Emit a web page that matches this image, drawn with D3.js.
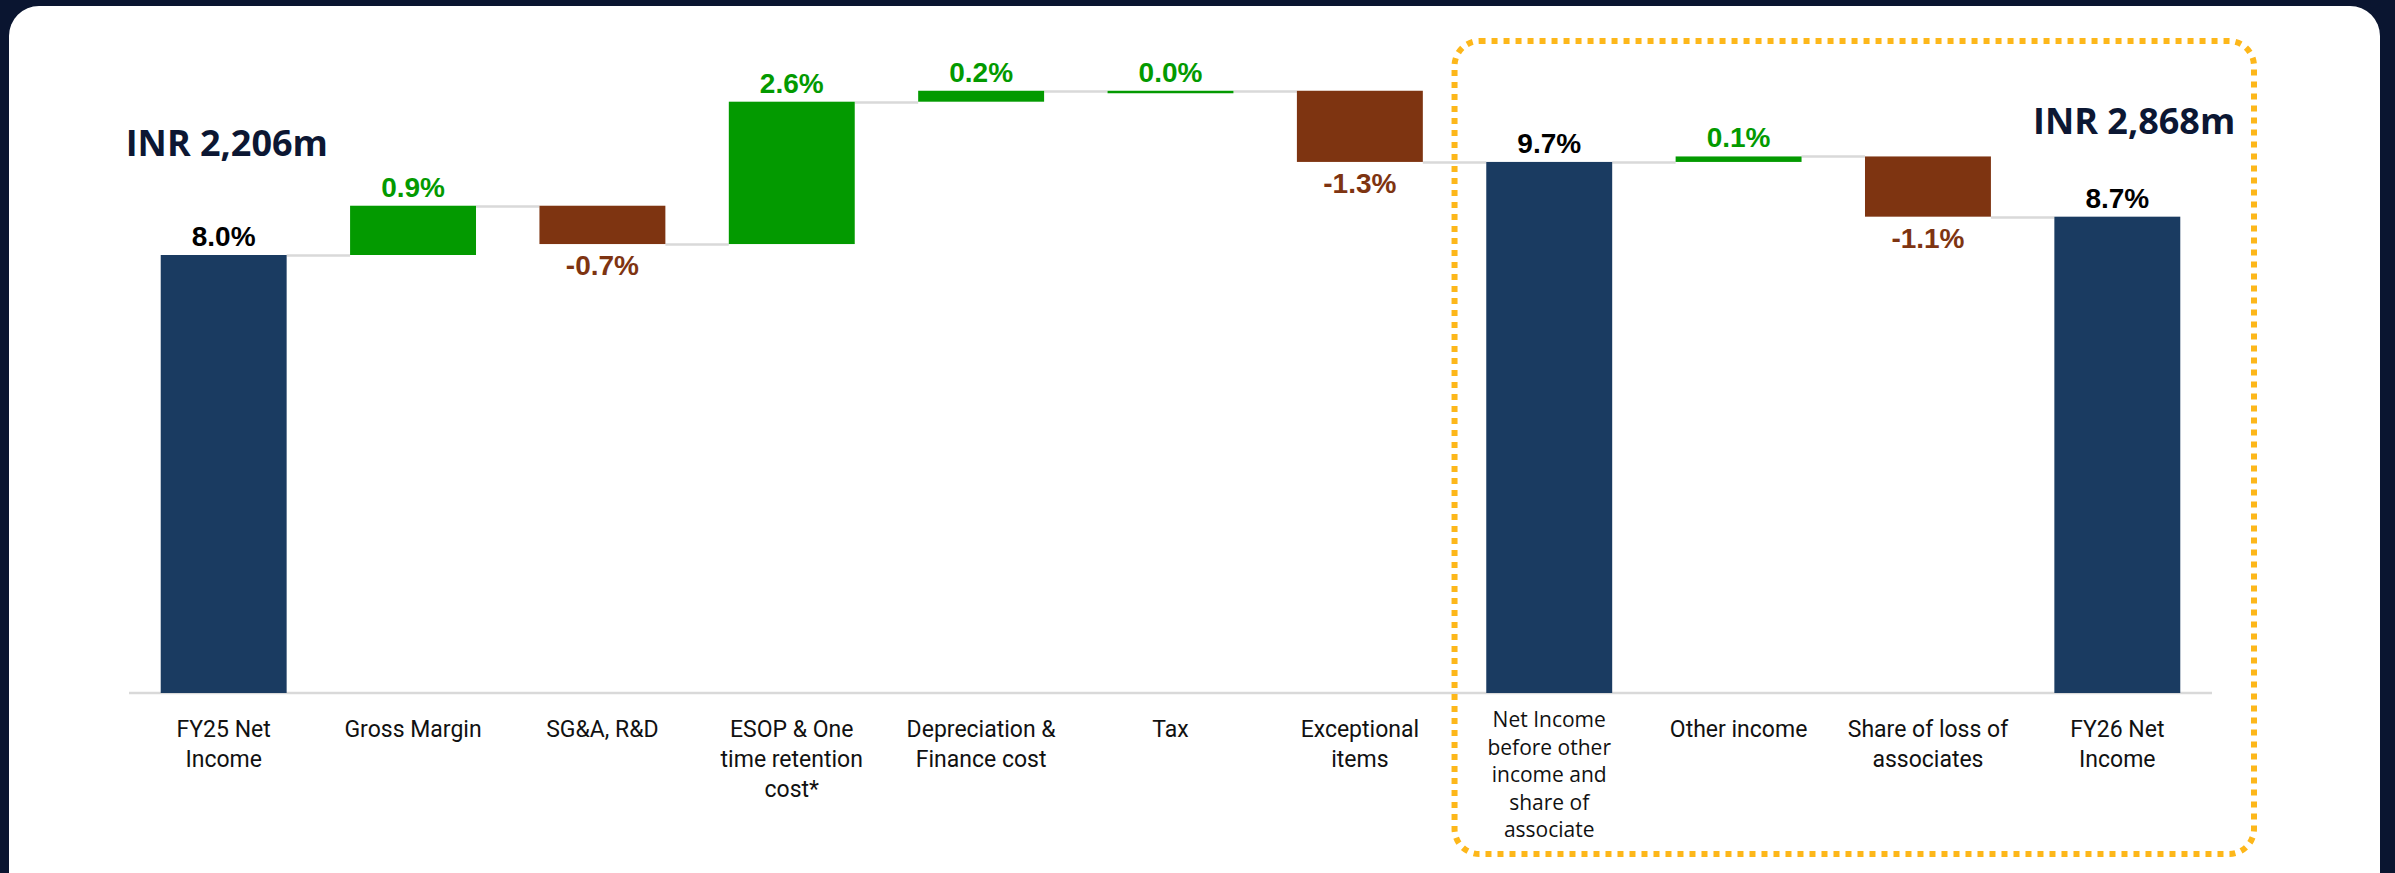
<!DOCTYPE html>
<html>
  <head>
    <meta charset="utf-8">
    <title>FY25 to FY26 Net Income bridge</title>
    <script src="https://cdn.jsdelivr.net/npm/d3@7"></script>
    <style>
      html, body {
        margin: 0;
        padding: 0;
        background: #0a1530;
      }
      svg {
        display: block;
      }
    </style>
  </head>
<body>
  <script type="text/javascript">
  /*
    Chart data
  */
  var categories = [
    ["FY25 Net", "Income"],
    ["Gross Margin"],
    ["SG&A, R&D"],
    ["ESOP & One", "time retention", "cost*"],
    ["Depreciation &", "Finance cost"],
    ["Tax"],
    ["Exceptional", "items"],
    ["Net Income", "before other", "income and", "share of", "associate"],
    ["Other income"],
    ["Share of loss of", "associates"],
    ["FY26 Net", "Income"]
  ];
  var kinds = ["total", "delta", "delta", "delta", "delta", "delta",
               "delta", "total", "delta", "delta", "total"];
  var values = [8.0, 0.9, -0.7, 2.6, 0.2, 0.0, -1.3, 9.7, 0.1, -1.1, 8.7];
  var valueLabels = ["8.0%", "0.9%", "-0.7%", "2.6%", "0.2%", "0.0%",
                     "-1.3%", "9.7%", "0.1%", "-1.1%", "8.7%"];
  var headlines = ["INR 2,206m", "INR 2,868m"];

  var W = 2395,
      H = 873,
      navy = "#1a3b61",
      green = "#039a00",
      brown = "#7e3411",
      grid = "#d9d9d9";

  /*
    Build the waterfall steps
  */
  var steps = [];
  var running = 0;
  for (var i = 0; i < values.length; i++) {
    var start, end;
    if (kinds[i] == "total") {
      start = 0;
      end = values[i];
    } else {
      start = running;
      end = running + values[i];
    }
    running = end;
    steps.push({i: i, lines: categories[i], kind: kinds[i], v: values[i],
                label: valueLabels[i], start: start, end: end});
  }

  var svg = d3.select("body")
    .append("svg")
      .attr("width", W)
      .attr("height", H);

  // white card
  svg.append("rect")
    .attr("x", 9)
    .attr("y", 6)
    .attr("width", 2371)
    .attr("height", 900)
    .attr("rx", 30)
    .attr("fill", "#ffffff");

  var x = d3.scaleBand()
    .domain(d3.range(categories.length))
    .range([129, 2212])
    .paddingInner(0.335)
    .paddingOuter(0.1675);

  var y = d3.scaleLinear()
    .domain([0, 12])
    .range([693, 36]);

  // baseline
  svg.append("line")
    .attr("x1", x.range()[0])
    .attr("x2", x.range()[1])
    .attr("y1", y(0))
    .attr("y2", y(0))
    .attr("stroke", grid)
    .attr("stroke-width", 2.5);

  // connectors between bars
  svg.append("g")
    .selectAll("line")
    .data(steps.slice(0, -1))
    .join("line")
      .attr("x1", function(d) { return x(d.i) + x.bandwidth(); })
      .attr("x2", function(d) { return x(d.i + 1); })
      .attr("y1", function(d) { return Math.round(y(d.end)) + 0.5; })
      .attr("y2", function(d) { return Math.round(y(d.end)) + 0.5; })
      .attr("stroke", grid)
      .attr("stroke-width", 2.5);

  function barColor(d) {
    if (d.kind == "total") return navy;
    return d.v < 0 ? brown : green;
  }

  // bars
  svg.append("g")
    .selectAll("rect")
    .data(steps)
    .join("rect")
      .attr("x", function(d) { return x(d.i); })
      .attr("width", x.bandwidth())
      .attr("y", function(d) { return y(Math.max(d.start, d.end)); })
      .attr("height", function(d) {
        return Math.max(2.5, Math.abs(y(d.start) - y(d.end)));
      })
      .attr("fill", barColor);

  // value labels
  svg.append("g")
    .selectAll("text")
    .data(steps)
    .join("text")
      .attr("x", function(d) { return x(d.i) + x.bandwidth() / 2; })
      .attr("y", function(d) {
        if (d.kind == "delta" && d.v < 0) return y(d.end) + 31;
        return y(Math.max(d.start, d.end)) - 9;
      })
      .attr("text-anchor", "middle")
      .attr("font-family", "'Liberation Sans', Arial, sans-serif")
      .attr("font-weight", "bold")
      .attr("font-size", 28)
      .attr("fill", function(d) {
        if (d.kind == "total") return "#000000";
        return d.v < 0 ? brown : green;
      })
      .text(function(d) { return d.label; });

  // category labels
  var cat = svg.append("g")
    .selectAll("text")
    .data(steps)
    .join("text")
      .attr("text-anchor", "middle")
      .attr("fill", "#111111")
      .attr("font-family", function(d) {
        return d.i == 7 ? "'Open Sans', sans-serif" : "Roboto, sans-serif";
      })
      .attr("font-size", function(d) { return d.i == 7 ? 21 : 23; })
      .attr("y", function(d) { return d.i == 7 ? 727 : 737; });

  cat.selectAll("tspan")
    .data(function(d) {
      return d.lines.map(function(t, k) { return {t: t, k: k, i: d.i}; });
    })
    .join("tspan")
      .attr("x", function(d) { return x(d.i) + x.bandwidth() / 2; })
      .attr("dy", function(d) {
        if (d.k == 0) return 0;
        return d.i == 7 ? 27.5 : 30;
      })
      .text(function(d) { return d.t; });

  /*
    Headline amounts
  */
  svg.append("text")
    .attr("x", x(0) - 35)
    .attr("y", 156)
    .attr("font-family", "'Open Sans', sans-serif")
    .attr("font-weight", "bold")
    .attr("font-size", 36)
    .attr("fill", "#0c1733")
    .text(headlines[0]);

  svg.append("text")
    .attr("x", x(10) + x.bandwidth() + 55)
    .attr("y", 134)
    .attr("text-anchor", "end")
    .attr("font-family", "'Open Sans', sans-serif")
    .attr("font-weight", "bold")
    .attr("font-size", 36)
    .attr("fill", "#0c1733")
    .text(headlines[1]);

  /*
    Dotted highlight box round the last four columns
  */
  var boxLeft = x(7) - (x.step() - x.bandwidth()) / 2;
  svg.append("rect")
    .attr("x", boxLeft)
    .attr("y", 41)
    .attr("width", 2254 - boxLeft)
    .attr("height", 813)
    .attr("rx", 25)
    .attr("fill", "none")
    .attr("stroke", "#fdb71a")
    .attr("stroke-width", 6)
    .attr("stroke-dasharray", "6,6");
  </script>
</body>
</html>
